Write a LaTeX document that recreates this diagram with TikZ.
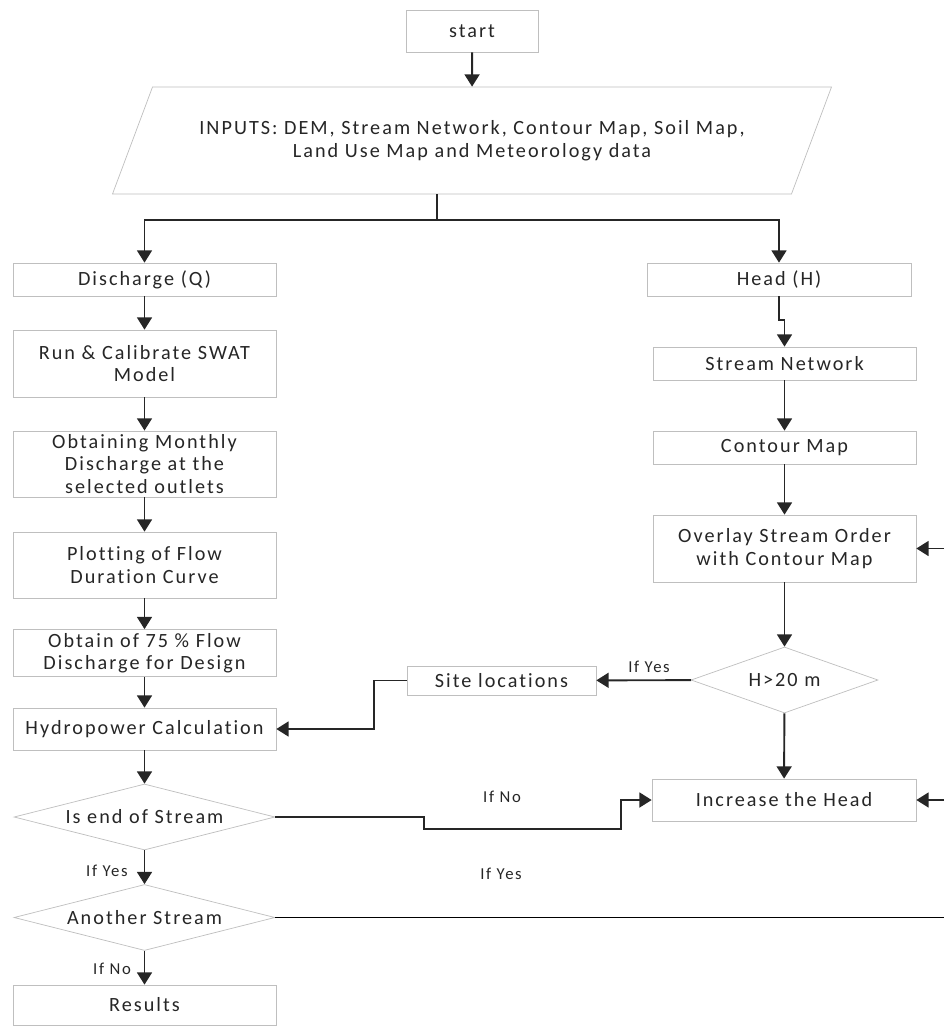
\documentclass[tikz,border=0pt]{standalone}
\usepackage{fontspec}
\setmainfont{Carlito}[LetterSpace=10, Ligatures=NoCommon]
\usetikzlibrary{arrows.meta,shapes.geometric}

\tikzset{
    box/.style={draw=black!25, fill=white, text=black!85, align=center,
        inner sep=2pt, font=\fontsize{11.5}{12.8}\selectfont},
    lbox/.style={box, minimum width=5.26cm},
    rbox/.style={box, minimum width=5.26cm},
    choice/.style={diamond, aspect=3.9, draw=black!25, fill=white,
        text=black!85, inner sep=0pt, font=\fontsize{11.5}{12.8}\selectfont},
    inbox/.style={trapezium, trapezium left angle=56, trapezium right angle=124,
        trapezium stretches=true, draw=black!25, fill=white, text=black!85,
        align=center, minimum width=14.44cm, minimum height=2.14cm,
        font=\fontsize{11.5}{12.8}\selectfont},
    lbl/.style={text=black!85, inner sep=1pt, font=\fontsize{9.5}{11}\selectfont},
    link/.style={line width=1.1pt, draw=black!85},
    arr/.style={link, -{Triangle[width=8.5pt,length=7pt]}}
}

\begin{document}
\begin{tikzpicture}[x=0.02cm, y=-0.02cm]
    \useasboundingbox (0, 0) rectangle (944, 1026);

    % Start and inputs
    \node at (472, 31) [box, minimum width=2.64cm, minimum height=0.84cm] (start) {start};
    \node at (472, 140.5) [inbox] (inputs) {INPUTS: DEM, Stream Network, Contour Map, Soil Map,\\Land Use Map and Meteorology data};
    \coordinate (fork) at (437, 220);

    % Discharge side
    \node at (144.5, 279.5) [lbox, minimum height=0.66cm] (disch) {Discharge (Q)};
    \node at (144.5, 363.5) [lbox, minimum height=1.34cm] (swat) {Run \& Calibrate SWAT\\Model};
    \node at (144.5, 464) [lbox, minimum height=1.32cm] (monthly) {Obtaining Monthly\\Discharge at the\\selected outlets};
    \node at (144.5, 565) [lbox, minimum height=1.32cm] (fdc) {Plotting of Flow\\Duration Curve};
    \node at (144.5, 653) [lbox, minimum height=0.84cm] (design) {Obtain of 75 \% Flow\\Discharge for Design};
    \node at (144.5, 729) [lbox, minimum height=0.84cm] (power) {Hydropower Calculation};
    \node at (144.5, 817) [choice, minimum width=5.22cm, minimum height=1.32cm] (endq) {Is end of Stream};
    \node at (144.5, 917.5) [choice, minimum width=5.22cm, minimum height=1.32cm] (another) {Another Stream};
    \node at (144.5, 1005) [lbox, minimum height=0.8cm] (results) {Results};

    % Head side
    \node at (779, 279.5) [rbox, minimum width=5.28cm, minimum height=0.66cm] (head) {Head (H)};
    \node at (784.5, 363.5) [rbox, minimum height=0.66cm] (network) {Stream Network};
    \node at (784.5, 447.5) [rbox, minimum height=0.66cm] (contour) {Contour Map};
    \node at (784.5, 548.5) [rbox, minimum height=1.34cm] (overlay) {Overlay Stream Order\\with Contour Map};
    \node at (784.5, 680) [choice, aspect=2.8, minimum width=3.74cm, minimum height=1.32cm] (hcheck) {H>20 m};
    \node at (501.5, 680.5) [box, minimum width=3.78cm, minimum height=0.58cm] (sites) {Site locations};
    \node at (784, 800) [box, minimum width=5.28cm, minimum height=0.84cm] (raise) {Increase the Head};

    % Free ends at the right edge
    \coordinate (edgeO) at (944, 548.5);
    \coordinate (edgeR) at (944, 800);
    \coordinate (edgeA) at (944, 917.5);

    % Labels
    \node at (649, 667) [lbl] (yesH) {If Yes};
    \node at (502, 797) [lbl] (noE) {If No};
    \node at (107, 871) [lbl] (yesE) {If Yes};
    \node at (501, 874) [lbl] (yesA) {If Yes};
    \node at (112, 969) [lbl] (noA) {If No};

    % Arrows
    \draw[arr] (start) -- (inputs);
    \draw[link] (inputs.south -| fork) -- (fork);
    \draw[arr] (fork) -| (disch);
    \draw[arr] (fork) -| (head);
    \draw[arr] (disch) -- (swat);
    \draw[arr] (swat) -- (monthly);
    \draw[arr] (monthly) -- (fdc);
    \draw[arr] (fdc) -- (design);
    \draw[arr] (design) -- (power);
    \draw[arr] (power) -- (endq);
    \draw[arr] (endq) -- (another);
    \draw[arr] (another) -- (results);
    \draw[arr] (head.south) -- ++(0, 24) -| (network.north);
    \draw[arr] (network) -- (contour);
    \draw[arr] (contour) -- (overlay);
    \draw[arr] (overlay) -- (hcheck);
    \draw[arr] (hcheck) -- (sites);
    \draw[arr] (sites.west) -- ++(-33, 0) |- (power.east);
    \draw[arr] (hcheck) -- (raise);
    \draw[arr] (endq.east) -| (424, 829) -| (621, 800) -- (raise.west);
    \draw[link, draw=black] (another.east) -- (edgeA);
    \draw[arr] (edgeO) -- (overlay.east);
    \draw[arr] (edgeR) -- (raise.east);
\end{tikzpicture}
\end{document}
